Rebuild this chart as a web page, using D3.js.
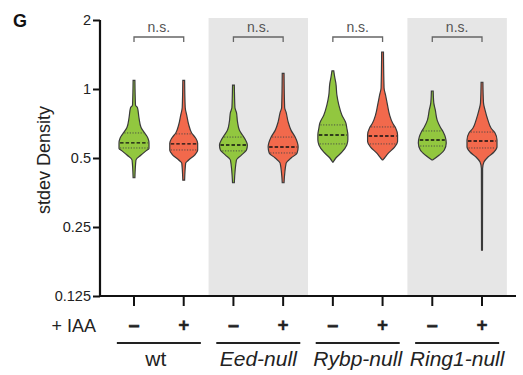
<!DOCTYPE html>
<html>
<head>
<meta charset="utf-8">
<script src="https://cdn.jsdelivr.net/npm/d3@7"></script>
<style>
body { margin:0; background:#fff; }
text { font-family:"Liberation Sans", Arial, sans-serif; }
</style>
</head>
<body>
<svg id="chart" width="523" height="375"></svg>
<script>
// categories
var groups = ["wt", "Eed-null", "Rybp-null", "Ring1-null"];
var iaaSigns = ["–", "+"];
var shadedGroups = ["Eed-null", "Ring1-null"];
var yTicks = [0.125, 0.25, 0.5, 1, 2];
var yTickLabels = ["0.125", "0.25", "0.5", "1", "2"];
var sigLabels = ["n.s.", "n.s.", "n.s.", "n.s."];

// violin outlines: [stdev density, relative width]
var wtMinus   = [[1.09,0.06],[0.85,0.1],[0.83,0.23],[0.75,0.33],[0.68,0.47],[0.64,0.73],[0.61,0.93],[0.58,1],[0.55,1],[0.537,0.8],[0.515,0.47],[0.49,0.13],[0.41,0.06]];
var wtPlus    = [[1.09,0.06],[0.83,0.1],[0.77,0.2],[0.70,0.33],[0.643,0.53],[0.61,0.8],[0.58,0.93],[0.54,0.93],[0.515,0.73],[0.49,0.33],[0.475,0.13],[0.40,0.06]];
var eedMinus  = [[1.04,0.06],[0.83,0.1],[0.79,0.2],[0.72,0.27],[0.66,0.4],[0.63,0.6],[0.60,0.8],[0.57,0.93],[0.542,0.87],[0.515,0.53],[0.49,0.2],[0.39,0.06]];
var eedPlus   = [[1.17,0.06],[0.83,0.1],[0.79,0.2],[0.72,0.33],[0.66,0.53],[0.617,0.8],[0.558,1],[0.526,0.93],[0.50,0.53],[0.475,0.2],[0.39,0.06]];
var rybpMinus = [[1.2,0.06],[1.12,0.13],[1.06,0.2],[0.94,0.27],[0.85,0.4],[0.77,0.6],[0.71,0.87],[0.676,0.93],[0.63,1],[0.60,1],[0.57,0.93],[0.53,0.6],[0.50,0.2],[0.48,0.02]];
var rybpPlus  = [[1.45,0.06],[1.01,0.1],[0.94,0.2],[0.85,0.33],[0.77,0.47],[0.71,0.67],[0.676,0.87],[0.63,1],[0.59,1],[0.558,0.8],[0.526,0.4],[0.50,0.13],[0.49,0.02]];
var ringMinus = [[0.98,0.06],[0.87,0.1],[0.81,0.2],[0.73,0.33],[0.683,0.53],[0.649,0.73],[0.617,0.87],[0.582,0.93],[0.542,0.8],[0.515,0.47],[0.49,0.02]];
var ringPlus  = [[1.07,0.06],[0.87,0.1],[0.81,0.2],[0.73,0.4],[0.676,0.6],[0.643,0.87],[0.599,1],[0.558,1],[0.531,0.8],[0.505,0.4],[0.48,0.13],[0.45,0.04],[0.198,0.03]];
var profiles = [wtMinus, wtPlus, eedMinus, eedPlus, rybpMinus, rybpPlus, ringMinus, ringPlus];

var medians = [0.582, 0.576, 0.570, 0.558, 0.630, 0.624, 0.599, 0.593];
var q1s     = [0.553, 0.542, 0.537, 0.526, 0.576, 0.576, 0.564, 0.553];
var q3s     = [0.643, 0.637, 0.617, 0.617, 0.697, 0.683, 0.656, 0.649];

var svg = d3.select("#chart");
var plotLeft = 100, plotRight = 516, plotTop = 20, plotBottom = 296;

var keys = [];
groups.forEach(function(g){ iaaSigns.forEach(function(s){ keys.push(g + s); }); });

var x = d3.scaleBand().domain(keys).range([plotLeft, plotRight]).paddingInner(0).paddingOuter(0.184);
var y = d3.scaleLog().base(2).domain([0.125, 2]).range([plotBottom, plotTop]);
var w = d3.scaleLinear().domain([0, 1]).range([0, 15]);
function cx(k){ return x(k) + x.bandwidth()/2; }

// shaded backgrounds
shadedGroups.forEach(function(g){
  svg.append("rect")
    .attr("x", x(g + iaaSigns[0]))
    .attr("y", plotTop - 2)
    .attr("width", x.bandwidth()*2)
    .attr("height", plotBottom - plotTop + 2)
    .attr("fill", "#e6e6e6");
});

// width of violin at a given value
function widthAt(p, v){
  for (var i = 0; i < p.length - 1; i++) {
    var a = p[i], b = p[i+1];
    if (v <= a[0] && v >= b[0]) {
      var t = (Math.log(a[0]) - Math.log(v)) / (Math.log(a[0]) - Math.log(b[0]));
      return a[1] + t*(b[1] - a[1]);
    }
  }
  return 0;
}

var colors = ["#92c73f", "#f2694c"];

keys.forEach(function(k, i){
  var c = cx(k), p = profiles[i];
  var area = d3.area()
    .y(function(d){ return y(d[0]); })
    .x0(function(d){ return c - w(d[1]); })
    .x1(function(d){ return c + w(d[1]); })
    .curve(d3.curveMonotoneY);
  svg.append("path")
    .attr("d", area(p))
    .attr("fill", colors[i % 2])
    .attr("stroke", "#3a3a3a")
    .attr("stroke-width", 1.2);

  [[q1s[i], "1.2,1.5", 0.9, "#444"], [q3s[i], "1.2,1.5", 0.9, "#444"], [medians[i], "3.5,2", 1.4, "#111"]].forEach(function(q){
    var hw = w(widthAt(p, q[0]));
    svg.append("line")
      .attr("x1", c - hw + 1).attr("x2", c + hw - 1)
      .attr("y1", y(q[0])).attr("y2", y(q[0]))
      .attr("stroke", q[3])
      .attr("stroke-width", q[2])
      .attr("stroke-dasharray", q[1]);
  });
});

// y axis
var yAxis = d3.axisLeft(y).tickValues(yTicks).tickFormat(function(d, i){ return yTickLabels[i]; }).tickSize(7).tickPadding(2);
var ga = svg.append("g").attr("transform", "translate(" + plotLeft + ",0)").call(yAxis);
ga.select(".domain").remove();
ga.selectAll("line").attr("stroke", "#111").attr("stroke-width", 2);
ga.selectAll("text").attr("font-size", 14.5).attr("fill", "#222").attr("font-family", "Liberation Sans, Arial, sans-serif");

svg.append("line").attr("x1", plotLeft).attr("x2", plotLeft).attr("y1", plotTop).attr("y2", plotBottom + 1)
  .attr("stroke", "#111").attr("stroke-width", 2.2);
svg.append("line").attr("x1", plotLeft - 1).attr("x2", plotRight).attr("y1", plotBottom).attr("y2", plotBottom)
  .attr("stroke", "#111").attr("stroke-width", 2.2);

// x ticks
keys.forEach(function(k){
  svg.append("line").attr("x1", cx(k)).attr("x2", cx(k)).attr("y1", plotBottom).attr("y2", plotBottom + 10)
    .attr("stroke", "#111").attr("stroke-width", 2);
});

// y label
svg.append("text")
  .attr("transform", "translate(50," + ((plotTop + plotBottom)/2 + 2) + ") rotate(-90)")
  .attr("text-anchor", "middle")
  .attr("font-size", 18)
  .attr("fill", "#222")
  .text("stdev Density");

// panel letter
svg.append("text").attr("x", 13).attr("y", 27).attr("font-size", 18).attr("font-weight", "bold").attr("fill", "#111").text("G");

// IAA row
svg.append("text").attr("x", 96).attr("y", 332).attr("text-anchor", "end").attr("font-size", 18).attr("fill", "#222").text("+ IAA");
keys.forEach(function(k, i){
  svg.append("text").attr("x", cx(k)).attr("y", 331).attr("text-anchor", "middle")
    .attr("font-size", 19).attr("font-weight", "bold").attr("fill", "#222")
    .attr("stroke", "#222").attr("stroke-width", i % 2 ? 0.3 : 0.9)
    .text(iaaSigns[i % 2]);
});

// group labels, underlines and brackets
groups.forEach(function(g, gi){
  var a = cx(g + iaaSigns[0]), b = cx(g + iaaSigns[1]), m = (a + b)/2;
  svg.append("line").attr("x1", m - 42).attr("x2", m + 42).attr("y1", 343).attr("y2", 343)
    .attr("stroke", "#222").attr("stroke-width", 2);
  svg.append("text").attr("x", m + (gi === 0 ? -3 : 0)).attr("y", 366).attr("text-anchor", "middle")
    .attr("font-size", 21).attr("fill", "#222")
    .attr("font-style", gi === 0 ? "normal" : "italic")
    .text(g);
  svg.append("path").attr("d", "M" + a + ",42V37H" + b + "V42")
    .attr("fill", "none").attr("stroke", "#666").attr("stroke-width", 1.3);
  svg.append("text").attr("x", m).attr("y", 32).attr("text-anchor", "middle")
    .attr("font-size", 14).attr("fill", "#555").text(sigLabels[gi]);
});
</script>
</body>
</html>
